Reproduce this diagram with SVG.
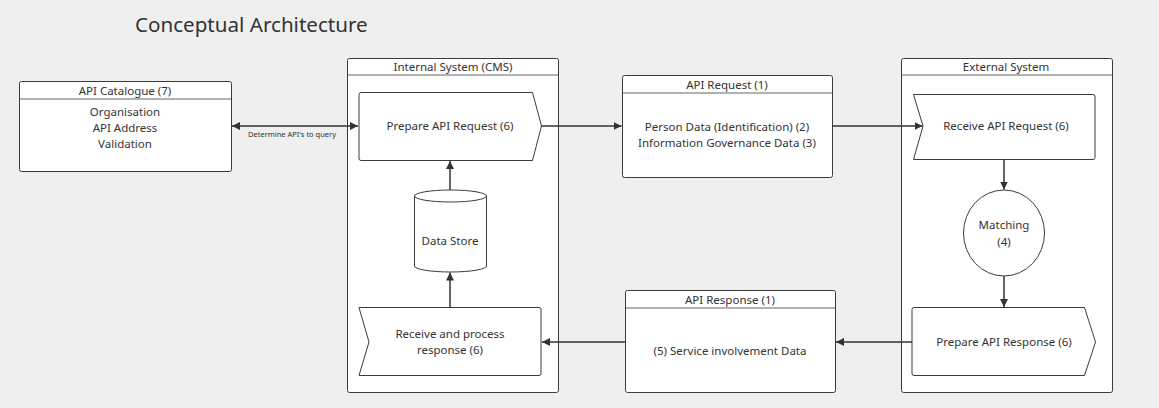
<svg xmlns="http://www.w3.org/2000/svg" width="1159" height="408" viewBox="0 0 1159 408">
<style>
text{font-family:"Noto Sans","Open Sans","DejaVu Sans",sans-serif;fill:#333;}
.t{font-size:11.5px;text-anchor:middle;}
.s{font-size:7.5px;text-anchor:middle;}
.box{fill:#fff;stroke:#3a3a3a;stroke-width:1;}
.hdr{stroke:#999;stroke-width:1.5;fill:none;}
.con{stroke:#333;stroke-width:1.5;fill:none;}
</style>
<defs>
<marker id="ah" viewBox="0 0 10 10" refX="10" refY="5" markerWidth="8" markerHeight="8" markerUnits="userSpaceOnUse" orient="auto-start-reverse">
<path d="M0,0 L10,5 L0,10 z" fill="#333"/>
</marker>
</defs>
<rect width="1159" height="408" fill="#efefef"/>
<text x="135" y="32" style="font-size:20.6px">Conceptual Architecture</text>

<g id="internal-system">
<rect class="box" x="347.5" y="58.5" width="211" height="334" rx="2"/>
<line class="hdr" x1="348" y1="75" x2="558" y2="75"/>
<text class="t" x="453" y="71">Internal System (CMS)</text>
</g>
<g id="external-system">
<rect class="box" x="901.5" y="58.5" width="211" height="334" rx="2"/>
<line class="hdr" x1="902" y1="75" x2="1112" y2="75"/>
<text class="t" x="1006" y="71">External System</text>
</g>

<g id="api-catalogue">
<rect class="box" x="19.5" y="81.5" width="212" height="90" rx="2"/>
<line class="hdr" x1="20" y1="99" x2="231" y2="99"/>
<text class="t" x="125" y="95">API Catalogue (7)</text>
<text class="t" x="125" y="116">Organisation</text>
<text class="t" x="125" y="132">API Address</text>
<text class="t" x="125" y="148">Validation</text>
</g>

<g id="prepare-api-request">
<path class="box" d="M361,92.5 L532.5,92.5 L541.5,126 L532.5,160.5 L361,160.5 Q359,160.5 359,158.5 L359,94.5 Q359,92.5 361,92.5 Z"/>
<text class="t" x="450" y="130">Prepare API Request (6)</text>
</g>

<g id="data-store">
<path class="box" d="M414.5,196 L414.5,266 A36,6 0 0 0 486.5,266 L486.5,196 A36,6 0 0 0 414.5,196 A36,6 0 0 0 486.5,196"/>
<text class="t" x="450" y="245">Data Store</text>
</g>

<g id="receive-process-response">
<path class="box" d="M359,307.5 L539,307.5 Q541,307.5 541,309.5 L541,373.5 Q541,375.5 539,375.5 L359,375.5 L369,342 Z"/>
<text class="t" x="450" y="338">Receive and process</text>
<text class="t" x="450" y="354">response (6)</text>
</g>

<g id="api-request">
<rect class="box" x="622.5" y="75.5" width="210" height="102" rx="2"/>
<line class="hdr" x1="623" y1="93" x2="832" y2="93"/>
<text class="t" x="727" y="89">API Request (1)</text>
<text class="t" x="727" y="131">Person Data (Identification) (2)</text>
<text class="t" x="727" y="147">Information Governance Data (3)</text>
</g>

<g id="api-response">
<rect class="box" x="625.5" y="290.5" width="210" height="102" rx="2"/>
<line class="hdr" x1="626" y1="308" x2="835" y2="308"/>
<text class="t" x="730" y="304">API Response (1)</text>
<text class="t" x="730" y="355">(5) Service involvement Data</text>
</g>

<g id="receive-api-request">
<path class="box" d="M913.5,94.5 L1093,94.5 Q1095,94.5 1095,96.5 L1095,157.5 Q1095,159.5 1093,159.5 L913.5,159.5 L923,126 Z"/>
<text class="t" x="1006" y="130">Receive API Request (6)</text>
</g>

<g id="matching">
<ellipse class="box" cx="1004" cy="233" rx="40.5" ry="43"/>
<text class="t" x="1004" y="229">Matching</text>
<text class="t" x="1004" y="246">(4)</text>
</g>

<g id="prepare-api-response">
<path class="box" d="M914,307.5 L1084.5,307.5 L1095.5,342 L1084.5,375.5 L914,375.5 Q912,375.5 912,373.5 L912,309.5 Q912,307.5 914,307.5 Z"/>
<text class="t" x="1004" y="346">Prepare API Response (6)</text>
</g>

<g id="connectors">
<path class="con" d="M232,126 L358,126" marker-start="url(#ah)" marker-end="url(#ah)"/>
<text class="s" x="292" y="137">Determine API's to query</text>
<path class="con" d="M541.5,126 L621.5,126" marker-end="url(#ah)"/>
<path class="con" d="M832.5,126 L922.5,126" marker-end="url(#ah)"/>
<path class="con" d="M450,190 L450,161" marker-end="url(#ah)"/>
<path class="con" d="M450,307 L450,272.5" marker-end="url(#ah)"/>
<path class="con" d="M1004,160 L1004,189.5" marker-end="url(#ah)"/>
<path class="con" d="M1004,276 L1004,307" marker-end="url(#ah)"/>
<path class="con" d="M912,342 L836,342" marker-end="url(#ah)"/>
<path class="con" d="M625,342 L542,342" marker-end="url(#ah)"/>
</g>
</svg>
